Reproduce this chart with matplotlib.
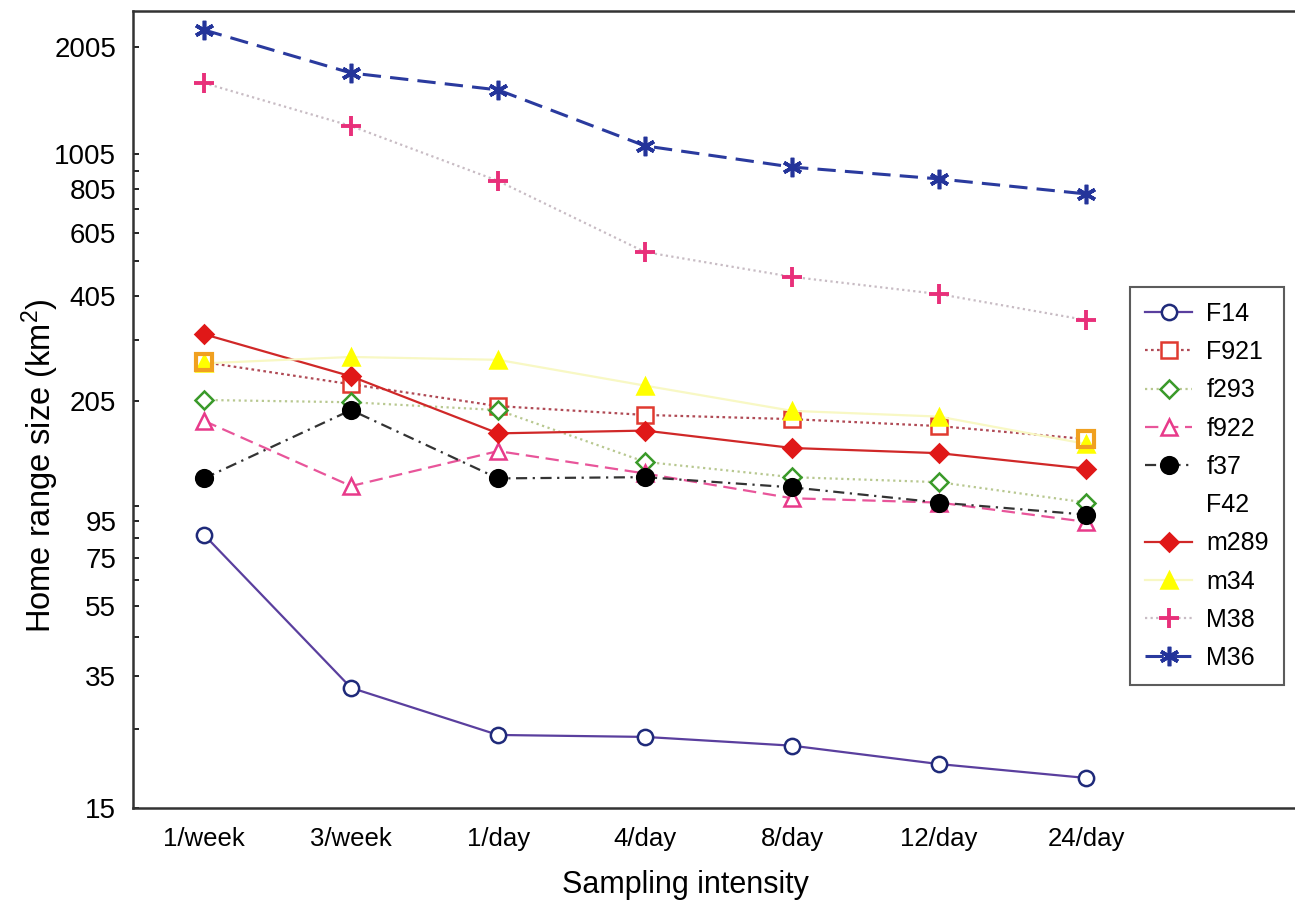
import numpy as np
import matplotlib
matplotlib.use("Agg")
import matplotlib.pyplot as plt
from matplotlib.lines import Line2D

plt.rcParams['font.family'] = ['Liberation Sans', 'DejaVu Sans']

# Sampling intensities on the x axis
intensities = ["1/week", "3/week", "1/day", "4/day", "8/day", "12/day", "24/day"]

# Home range size (km2) per animal
F14 = [87, 32.5, 24.0, 23.7, 22.4, 19.9, 18.2]
F921 = [264, 229, 199, 188, 183, 175, 161]
f293 = [207, 204, 194, 139, 126, 122, 107]
f922 = [181, 119, 149, 129, 110, 107, 94.5]
f37 = [125, 194, 125, 126, 118, 107, 99]
F42 = [264, np.nan, np.nan, np.nan, np.nan, np.nan, 161]
m289 = [316, 241, 167, 170, 152, 147, 133]
m34 = [262, 273, 268, 227, 193, 186, 156]
M38 = [1590, 1206, 847, 536, 457, 409, 346]
M36 = [2237, 1696, 1521, 1061, 926, 858, 779]

majorTicks = [15, 35, 55, 75, 95, 205, 405, 605, 805, 1005, 2005]
minorTicks = [25, 45, 65, 85, 105, 305, 505, 705, 905]

fig = plt.figure(figsize=(12.95, 9.08), dpi=100)
ax = fig.add_axes([0.1027, 0.1101, 0.8973, 0.8778])
x = np.arange(len(intensities))

# (name, values, line colour, linestyle, marker, marker size, face, edge)
series = [
    ("F14", F14, "#5a3f9e", "-", "o", 11, "white", "#1f2a7a"),
    ("F921", F921, "#b04a55", (0, (1.2, 1.5)), "s", 11, "white", "#e03a30"),
    ("f293", f293, "#b8c890", (0, (1, 1.6)), "D", 9, "white", "#3a9a2a"),
    ("f922", f922, "#e8559a", (0, (6, 3)), "^", 11, "white", "#e83a8a"),
    ("f37", f37, "#333333", (0, (5, 2.5, 1, 2.5)), "o", 12, "black", "black"),
    ("m289", m289, "#d02828", "-", "D", 9, "#e01818", "#e01818"),
    ("m34", m34, "#f8f8c4", "-", "^", 11, "#ffff00", "#ffff00"),
]

handles = {}
for name, vals, lc, ls, mk, ms, fc, ec in series:
    line, = ax.plot(x, vals, color=lc, linestyle=ls, linewidth=1.6, marker=mk,
                    markersize=ms, markerfacecolor=fc, markeredgecolor=ec,
                    markeredgewidth=1.8)
    handles[name] = line

# M38: pink crosses over a pale grey dotted line
ax.plot(x, M38, color="#c8bcc4", linestyle=(0, (1, 1.5)), linewidth=1.6)
ax.plot(x, M38, linestyle="none", marker="+", markersize=14,
        markeredgewidth=2.8, color="#e8307a")
handles["M38"] = Line2D([], [], color="#c8bcc4", linestyle=(0, (1, 1.5)),
                        linewidth=1.6, marker="+", markersize=14,
                        markeredgewidth=2.8, markeredgecolor="#e8307a")

# M36: blue asterisks on a dashed line
ax.plot(x, M36, color="#2a3a9e", linestyle=(0, (6, 3)), linewidth=2.2)
ax.plot(x, M36, linestyle="none", marker=(6, 2, 0), markersize=14,
        markeredgewidth=2.6, color="#24349a")
handles["M36"] = Line2D([], [], color="#2a3a9e", linestyle=(0, (6, 3)),
                        linewidth=2.2, marker=(6, 2, 0), markersize=14,
                        markeredgewidth=2.6, markeredgecolor="#24349a")

# F42 only shows as orange squares at the two ends
ax.plot(x, F42, linestyle="none", marker="s", markersize=12,
        markerfacecolor="none", markeredgecolor="#f0a020", markeredgewidth=3)
handles["F42"] = Line2D([], [], linestyle="none", marker="none")

ax.set_yscale("log")
ax.set_ylim(15, 2527)
ax.set_xlim(-0.483, 7.42)
ax.set_yticks(majorTicks)
ax.set_yticklabels([str(t) for t in majorTicks])
ax.set_yticks(minorTicks, minor=True)
ax.yaxis.set_minor_formatter(matplotlib.ticker.NullFormatter())
ax.set_xticks(x)
ax.set_xticklabels(intensities)

ax.tick_params(axis="y", which="both", direction="in", length=4, width=1.2,
               labelsize=20, pad=12)
ax.tick_params(axis="x", length=0, labelsize=18.5, pad=14)
ax.spines["right"].set_visible(False)
for side in ["left", "bottom", "top"]:
    ax.spines[side].set_linewidth(1.8)
    ax.spines[side].set_color("#333333")

ax.set_xlabel("Sampling intensity", fontsize=22)
ax.xaxis.set_label_coords(0.475, -0.078)
ax.set_ylabel(r"Home range size (km$\mathregular{^2}$)", fontsize=23.5)
ax.yaxis.set_label_coords(-0.062, 0.43)

order = ["F14", "F921", "f293", "f922", "f37", "F42", "m289", "m34", "M38", "M36"]
leg = ax.legend([handles[n] for n in order], order, loc="upper left",
                bbox_to_anchor=(0.858, 0.654), borderaxespad=0, fontsize=18,
                fancybox=False, edgecolor="#333333", handlelength=1.9,
                labelspacing=0.57, borderpad=0.6, handletextpad=0.55)
leg.get_frame().set_linewidth(1.5)

plt.savefig("out.png", dpi=100)
